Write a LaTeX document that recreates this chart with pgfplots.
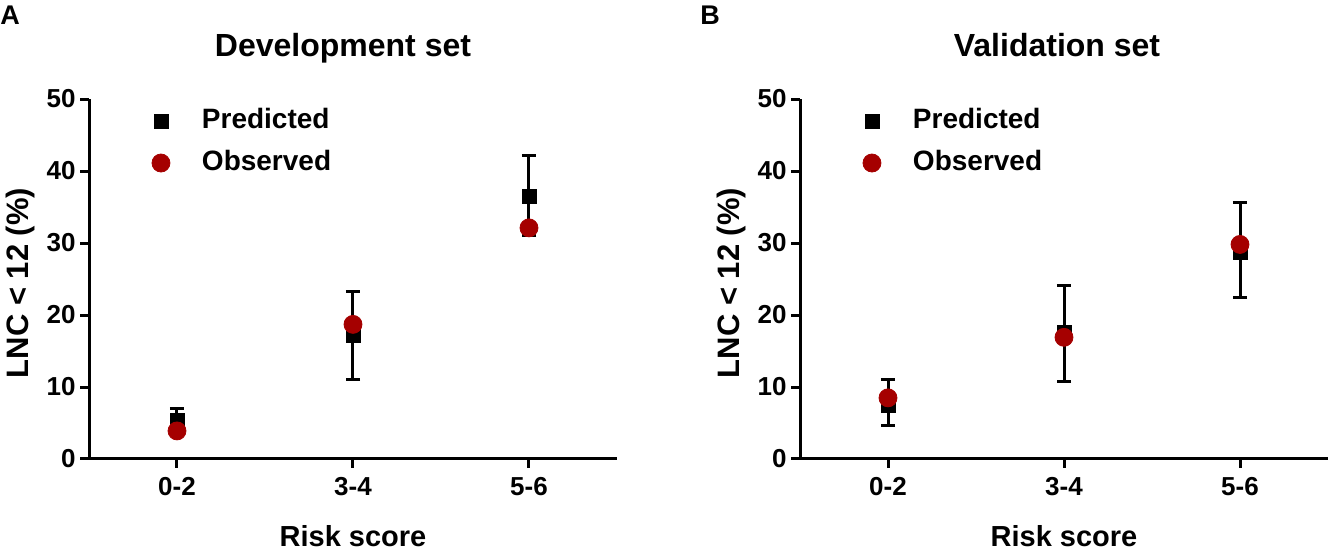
\documentclass[border=0pt]{standalone}
\usepackage{fontspec}
\setmainfont{Liberation Sans}
\usepackage{pgfplots}
\pgfplotsset{compat=1.18}
\definecolor{obsred}{RGB}{165,0,0}
\pgfplotsset{
  riskaxis/.style={
    scale only axis, width=264pt, height=180pt,
    xmin=0.5, xmax=3.5, ymin=0, ymax=50,
    axis lines=left,
    axis line style={line width=1.5pt, black, -},
    xtick={1,2,3}, xticklabels={0-2,3-4,5-6},
    ytick={0,10,20,30,40,50},
    tick align=outside, major tick length=4.5pt,
    tick style={line width=1.5pt, black},
    /pgf/number format/assume math mode=true,
    ticklabel style={font=\fontsize{13}{15}\selectfont\bfseries},
    yticklabel style={anchor=east, inner sep=0pt, xshift=-2pt},
    xticklabel style={anchor=base, inner sep=0pt, yshift=-14pt},
    xlabel={Risk score},
    ylabel={LNC < 12 (\%)},
    xlabel style={font=\fontsize{14.5}{17}\selectfont\bfseries, at={(axis description cs:0.5,-0.242)}, anchor=base, inner sep=0pt},
    ylabel style={font=\fontsize{15.5}{18}\selectfont\bfseries, at={(axis description cs:-0.129,0.489)}, anchor=center, inner sep=0pt},
    legend style={draw=none, fill=none, inner sep=0pt, outer sep=0pt,
      font=\fontsize{14}{16}\selectfont\bfseries,
      nodes={inner sep=0pt, text height=10pt, text depth=3pt},
      row sep=8pt,
      at={(axis description cs:0.106,0.975)}, anchor=north west},
    legend cell align=left,
    legend image code/.code={\path[draw=none, fill=none] (-8pt,-4pt) rectangle (20.5pt,4pt); \draw[##1] plot coordinates {(0pt,0pt)};},
    clip=false,
  },
  predstyle/.style={only marks, mark=square*, mark size=3.5pt, black,
    mark options={draw=black, fill=black},
    error bars/.cd, y dir=both, y explicit,
    error bar style={line width=1.5pt, black},
    error mark options={rotate=90, mark size=3.6pt, line width=1.5pt, black}},
  obsstyle/.style={only marks, mark=*, mark size=4.5pt, obsred,
    mark options={draw=obsred, fill=obsred}},
}
\begin{document}
\begin{tikzpicture}
\useasboundingbox (0pt,0pt) rectangle (664.5pt,-275pt);
% Panel A
\begin{axis}[riskaxis, at={(44.5pt,-229.5pt)}, anchor=south west]
\addplot[predstyle] coordinates {
  (1,5.33) += (0,1.63) -= (0,1.6)
  (2,17.2) += (0,6.0) -= (0,6.2)
  (3,36.5) += (0,5.6) -= (0,5.4)
};
\addlegendentry{Predicted}
\addplot[obsstyle] coordinates {(1,3.9) (2,18.7) (3,32.1)};
\addlegendentry{Observed}
\end{axis}
% Panel B
\begin{axis}[riskaxis, at={(400pt,-229.5pt)}, anchor=south west]
\addplot[predstyle] coordinates {
  (1,7.42) += (0,3.58) -= (0,2.78)
  (2,17.6) += (0,6.5) -= (0,6.9)
  (3,28.75) += (0,6.85) -= (0,6.25)
};
\addlegendentry{Predicted}
\addplot[obsstyle] coordinates {(1,8.49) (2,16.9) (3,29.8)};
\addlegendentry{Observed}
\end{axis}
\node[anchor=base, inner sep=0pt, font=\fontsize{16}{19}\selectfont\bfseries] at (171.5pt,-28.5pt) {Development set};
\node[anchor=base, inner sep=0pt, font=\fontsize{16}{19}\selectfont\bfseries] at (528.5pt,-28.5pt) {Validation set};
\node[anchor=base west, inner sep=0pt, font=\fontsize{13.5}{16}\selectfont\bfseries] at (0pt,-12.5pt) {A};
\node[anchor=base west, inner sep=0pt, font=\fontsize{13.5}{16}\selectfont\bfseries] at (350pt,-12.5pt) {B};
\end{tikzpicture}
\end{document}
